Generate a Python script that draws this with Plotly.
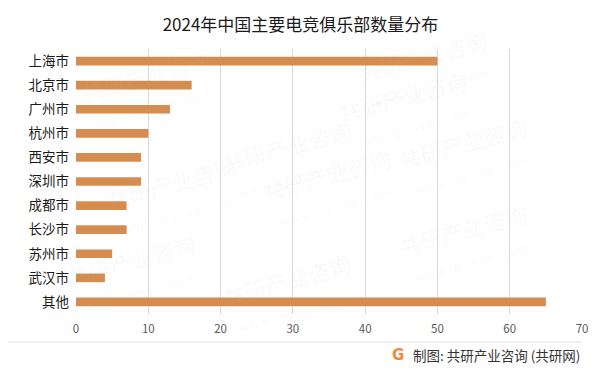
import plotly.graph_objects as go

categories = ["上海市", "北京市", "广州市", "杭州市", "西安市", "深圳市", "成都市", "长沙市", "苏州市", "武汉市", "其他"]
values = [50, 16, 13, 10, 9, 9, 7, 7, 5, 4, 65]
x_ticks = [0, 10, 20, 30, 40, 50, 60, 70]

title_text = "2024年中国主要电竞俱乐部数量分布"
source_text = "制图: 共研产业咨询 (共研网)"

FONT = "Noto Sans CJK SC"

fig = go.Figure(go.Bar(
    y=categories,
    x=values,
    orientation="h",
    marker=dict(color="#D48C4F", line=dict(width=0)),
    width=0.36,
))

W, H = 601, 373
L, R, T, B = 75.5, 18.5, 49, 59
PW, PH = W - L - R, H - T - B


def px2x(px):
    return (px - L) / PW


def py2y(py):
    return (H - B - py) / PH


fig.update_layout(
    width=W, height=H,
    margin=dict(l=L, r=R, t=T, b=B, autoexpand=False),
    paper_bgcolor="white",
    plot_bgcolor="white",
    showlegend=False,
    font=dict(family=FONT),
    title=dict(text=title_text, x=0.5, xanchor="center", y=1 - 25 / H, yanchor="middle",
               font=dict(family=FONT, size=17, color="#1a1a1a")),
    xaxis=dict(range=[0, 70], tickvals=x_ticks, showgrid=True, gridcolor="#d9d9d9", gridwidth=1,
               zeroline=False, showline=False, ticks="",
               tickfont=dict(family=FONT, size=11.5, color="#595959"), ticklabelstandoff=6),
    yaxis=dict(categoryorder="array", categoryarray=categories, autorange="reversed",
               showgrid=False, zeroline=False, showline=False, ticks="",
               tickfont=dict(family=FONT, size=13.5, color="#1a1a1a"), ticklabelstandoff=6),
)

# faint watermarks
wm_positions = [(75, 40), (290, 110), (480, 60), (100, 195), (330, 235), (540, 155),
                (60, 320), (290, 340), (540, 290), (500, 20)]
for (px, py) in wm_positions:
    fig.add_annotation(xref="paper", yref="paper", x=px2x(px), y=py2y(py),
                       text="共研产业咨询<br><span style='font-size:11px'>w w w . g o n y n . c o m</span>",
                       showarrow=False, textangle=-15,
                       font=dict(family=FONT, size=22, color="rgba(200,200,200,0.10)"))

# separator line
fig.add_shape(type="line", xref="paper", yref="paper",
              x0=px2x(8), x1=1, y0=py2y(342), y1=py2y(342),
              line=dict(color="#e3e3e3", width=1))

# logo + source
fig.add_annotation(xref="paper", yref="paper", x=px2x(398), y=py2y(355),
                   text="<b>G</b>", showarrow=False, xanchor="center", yanchor="middle",
                   font=dict(family="DejaVu Sans", size=15, color="#F0883A"))
fig.add_annotation(xref="paper", yref="paper", x=1, y=py2y(355),
                   text=source_text, showarrow=False, xanchor="right", yanchor="middle",
                   font=dict(family=FONT, size=13.5, color="#333333"))

fig.write_html("out.html", config={"displayModeBar": False},
               post_script="document.body.style.margin='0';document.body.style.padding='0';")
